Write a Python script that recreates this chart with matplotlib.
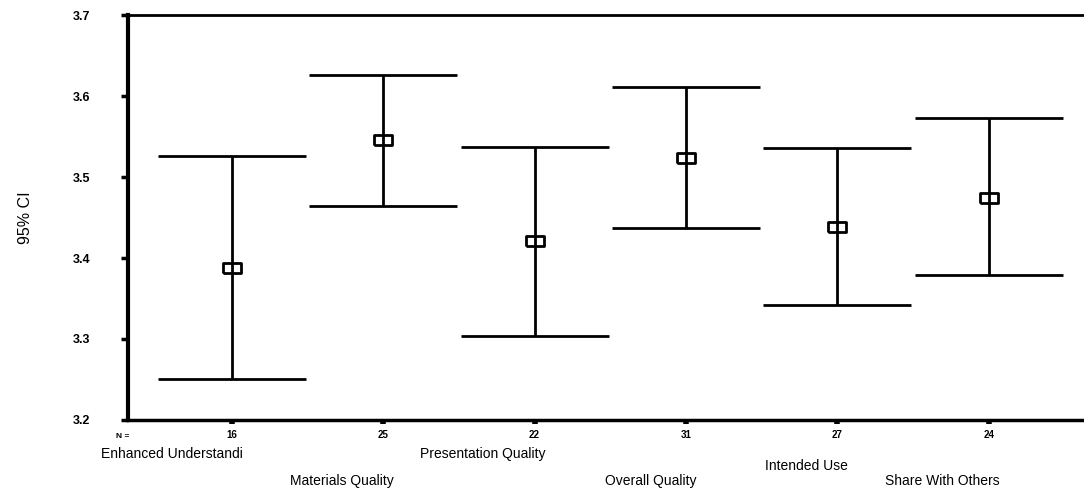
import matplotlib
matplotlib.use('Agg')
from matplotlib import pyplot as plt
from matplotlib import transforms

# data
categories = ['Enhanced Understandi', 'Materials Quality', 'Presentation Quality',
              'Overall Quality', 'Intended Use', 'Share With Others']
n_counts = [16, 25, 22, 31, 27, 24]
means = [3.388, 3.546, 3.421, 3.523, 3.438, 3.474]
upper = [3.526, 3.626, 3.537, 3.611, 3.536, 3.573]
lower = [3.251, 3.464, 3.304, 3.437, 3.342, 3.379]

plt.rcParams['font.family'] = ['Liberation Sans', 'DejaVu Sans']

fig = plt.figure(figsize=(10.84, 4.9), dpi=100)
ax = fig.add_axes([0.118, 0.143, 0.882, 0.826])

x = list(range(1, len(categories) + 1))
err_lo = [m - l for m, l in zip(means, lower)]
err_hi = [u - m for m, u in zip(means, upper)]

# wide open box used as the mean marker
box = [(-1, -0.55), (1, -0.55), (1, 0.55), (-1, 0.55), (-1, -0.55)]

# mean markers first, then the bars over them (line shows through the box)
ax.plot(x, means, linestyle='none', marker=box, markersize=13,
        markerfacecolor='white', markeredgecolor='black', markeredgewidth=2, zorder=2)
ax.errorbar(x, means, yerr=[err_lo, err_hi], fmt='none', ecolor='black',
            elinewidth=2, capsize=53, capthick=2, zorder=3)

ax.set_xlim(0.313, 6.63)
ax.set_ylim(3.2, 3.7)
ax.set_yticks([3.2, 3.3, 3.4, 3.5, 3.6, 3.7])
ax.set_yticklabels(['3.2', '3.3', '3.4', '3.5', '3.6', '3.7'], fontsize=9, fontweight='bold')
ax.set_xticks(x)
ax.set_xticklabels([str(n) for n in n_counts], fontsize=7, fontweight='bold')

ax.spines['right'].set_visible(False)
ax.spines['left'].set_linewidth(3)
ax.spines['bottom'].set_linewidth(2.5)
ax.spines['top'].set_linewidth(2)
ax.tick_params(axis='y', direction='out', length=5, width=2.5, pad=22)
ax.tick_params(axis='x', direction='out', length=3, width=4, pad=4)

ax.set_ylabel('95% CI', fontsize=11.5, labelpad=29)

# "N =" label and staggered category names under the axis
trans = transforms.blended_transform_factory(ax.transData, ax.transAxes)
ax.text(0.28, -0.04, 'N =', transform=trans, ha='center', va='center',
        fontsize=6, fontweight='bold')
label_rows = [-0.085, -0.152, -0.085, -0.152, -0.114, -0.152]
for i, name in enumerate(categories):
    ax.text(x[i] + 0.07, label_rows[i], name, transform=trans, ha='right', va='center',
            fontsize=10)

fig.savefig('out.png', dpi=100)
